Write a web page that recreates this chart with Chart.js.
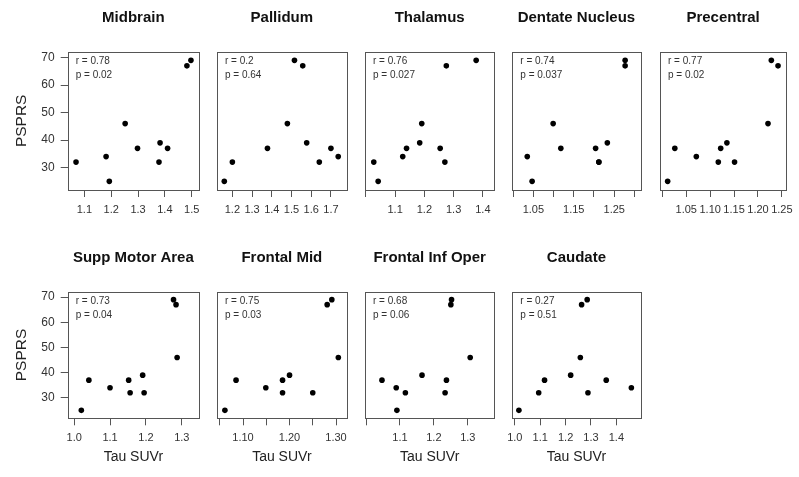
<!DOCTYPE html>
<html>
<head>
<meta charset="utf-8">
<script src="https://cdn.jsdelivr.net/npm/chart.js@4.4.0/dist/chart.umd.min.js"></script>
<style>
  html, body { margin: 0; padding: 0; background: #fff; }
  #wrap { position: relative; width: 799px; height: 477px; }
  #wrap canvas { position: absolute; left: 0; top: 0; }
</style>
</head>
<body>
<div id="wrap"></div>
<script>
// one panel per brain region, same 10 patients in each
const regions = ['Midbrain', 'Pallidum', 'Thalamus', 'Dentate Nucleus', 'Precentral',
                 'Supp Motor Area', 'Frontal Mid', 'Frontal Inf Oper', 'Caudate'];

const tauSuvr = [
  [1.069, 1.181, 1.193, 1.252, 1.298, 1.378, 1.382, 1.410, 1.482, 1.497],
  [1.159, 1.200, 1.378, 1.479, 1.515, 1.557, 1.577, 1.641, 1.700, 1.737],
  [1.027, 1.042, 1.126, 1.139, 1.184, 1.191, 1.254, 1.270, 1.275, 1.377],
  [1.035, 1.047, 1.099, 1.118, 1.204, 1.212, 1.212, 1.233, 1.277, 1.277],
  [1.011, 1.026, 1.071, 1.117, 1.122, 1.135, 1.151, 1.221, 1.228, 1.242],
  [1.020, 1.041, 1.100, 1.152, 1.156, 1.191, 1.195, 1.277, 1.284, 1.287],
  [1.061, 1.085, 1.149, 1.185, 1.185, 1.200, 1.250, 1.281, 1.291, 1.305],
  [1.047, 1.089, 1.091, 1.116, 1.165, 1.233, 1.237, 1.250, 1.252, 1.307],
  [1.016, 1.094, 1.117, 1.220, 1.258, 1.263, 1.285, 1.288, 1.360, 1.459]
];

const psprs = [
  [32, 34, 25, 46, 37, 32, 39, 37, 67, 69],
  [25, 32, 37, 46, 69, 67, 39, 32, 37, 34],
  [32, 25, 34, 37, 39, 46, 37, 32, 67, 69],
  [34, 25, 46, 37, 37, 32, 32, 39, 69, 67],
  [25, 37, 34, 32, 37, 39, 32, 46, 69, 67],
  [25, 37, 34, 37, 32, 39, 32, 69, 67, 46],
  [25, 37, 34, 37, 32, 39, 32, 67, 69, 46],
  [37, 34, 25, 32, 39, 32, 37, 67, 69, 46],
  [25, 32, 37, 39, 46, 67, 69, 32, 37, 34]
];

const rValues = ['0.78', '0.2', '0.76', '0.74', '0.77', '0.73', '0.75', '0.68', '0.27'];
const pValues = ['0.02', '0.64', '0.027', '0.037', '0.02', '0.04', '0.03', '0.06', '0.51'];

const xTicks = [
  [1.1, 1.2, 1.3, 1.4, 1.5],
  [1.2, 1.3, 1.4, 1.5, 1.6, 1.7],
  [1.0, 1.1, 1.2, 1.3, 1.4],
  [1.0, 1.05, 1.1, 1.15, 1.2, 1.25, 1.3],
  [1.0, 1.05, 1.1, 1.15, 1.2, 1.25],
  [1.0, 1.1, 1.2, 1.3],
  [1.05, 1.1, 1.15, 1.2, 1.25, 1.3],
  [1.0, 1.1, 1.2, 1.3],
  [1.0, 1.1, 1.2, 1.3, 1.4]
];
const xTickLabels = [
  ['1.1', '1.2', '1.3', '1.4', '1.5'],
  ['1.2', '1.3', '1.4', '1.5', '1.6', '1.7'],
  ['', '1.1', '1.2', '1.3', '1.4'],
  ['', '1.05', '', '1.15', '', '1.25', ''],
  ['', '1.05', '1.10', '1.15', '1.20', '1.25'],
  ['1.0', '1.1', '1.2', '1.3'],
  ['', '1.10', '', '1.20', '', '1.30'],
  ['', '1.1', '1.2', '1.3'],
  ['1.0', '1.1', '1.2', '1.3', '1.4']
];
const xMin = [1.038, 1.122, 0.997, 0.998, 0.995, 0.982, 1.044, 0.997, 0.990];
const xMax = [1.527, 1.780, 1.439, 1.315, 1.259, 1.348, 1.323, 1.378, 1.495];

const yTicks = [30, 40, 50, 60, 70];
const yMin = 21.85, yMax = 72.15;

// panel grid (plot box edges in px)
const colLeft = [67.7, 217, 365, 512.3, 660];
const colRight = [199, 346.7, 494.3, 640.5, 789.3];
const rowTop = [51.7, 291.7];
const rowBottom = [190, 418.3];
const rowTitleTop = [0, 240];

const W = 799, H = 477;
const FONT = '"Liberation Sans", Arial, Helvetica, sans-serif';
Chart.defaults.font.family = FONT;

// R-style frame plus the r / p annotation
const boxPlugin = {
  id: 'rBox',
  afterDraw(chart, args, opts) {
    const {ctx, chartArea: a} = chart;
    ctx.save();
    ctx.strokeStyle = '#555';
    ctx.lineWidth = 1;
    const l = Math.round(a.left) + 0.5, t = Math.round(a.top) + 0.5;
    const r = Math.round(a.right) + 0.5, b = Math.round(a.bottom) + 0.5;
    ctx.strokeRect(l, t, r - l, b - t);
    ctx.fillStyle = '#333';
    ctx.font = '10px ' + FONT;
    ctx.textBaseline = 'middle';
    ctx.fillText('r = ' + opts.r, a.left + 8, a.top + 10);
    ctx.fillText('p = ' + opts.p, a.left + 8, a.top + 24);
    ctx.restore();
  }
};

const wrap = document.getElementById('wrap');

regions.forEach((name, i) => {
  const row = i < 5 ? 0 : 1;
  const col = row === 0 ? i : i - 5;
  const firstCol = col === 0;
  const yAxisW = firstCol ? 56 : 0;
  const xAxisH = 50;

  const canvas = document.createElement('canvas');
  canvas.width = W;
  canvas.height = H;
  wrap.appendChild(canvas);

  const points = tauSuvr[i].map((x, k) => ({x: x, y: psprs[i][k]}));

  new Chart(canvas, {
    type: 'scatter',
    data: {
      datasets: [{
        data: points,
        pointRadius: 2.8,
        pointHoverRadius: 2.8,
        pointBackgroundColor: '#000',
        pointBorderWidth: 0
      }]
    },
    options: {
      responsive: false,
      animation: false,
      devicePixelRatio: 1,
      events: [],
      layout: {
        padding: {
          left: colLeft[col] - yAxisW,
          right: W - colRight[col],
          top: rowTitleTop[row],
          bottom: H - rowBottom[row] - xAxisH
        }
      },
      plugins: {
        legend: {display: false},
        tooltip: {enabled: false},
        title: {
          display: true,
          fullSize: false,
          text: name,
          color: '#111',
          font: {size: 15, weight: 'bold'},
          padding: {top: 8.5, bottom: rowTop[row] - rowTitleTop[row] - 18 - 8.5}
        },
        rBox: {r: rValues[i], p: pValues[i]}
      },
      scales: {
        x: {
          type: 'linear',
          position: 'bottom',
          min: xMin[i],
          max: xMax[i],
          afterFit: s => { s.height = xAxisH; },
          afterBuildTicks: s => { s.ticks = xTicks[i].map(v => ({value: v})); },
          ticks: {
            autoSkip: false,
            maxRotation: 0,
            minRotation: 0,
            padding: 6,
            color: '#333',
            font: {size: 11},
            callback: (v, k) => xTickLabels[i][k]
          },
          grid: {drawOnChartArea: false, drawTicks: true, tickLength: 7, color: '#555'},
          border: {display: false},
          title: {
            display: row === 1,
            text: 'Tau SUVr',
            color: '#222',
            font: {size: 14},
            padding: {top: 0, bottom: 2.4}
          }
        },
        y: {
          type: 'linear',
          position: 'left',
          display: firstCol,
          min: yMin,
          max: yMax,
          afterFit: s => { s.width = yAxisW; },
          afterBuildTicks: s => { s.ticks = yTicks.map(v => ({value: v})); },
          ticks: {
            autoSkip: false,
            padding: 6,
            color: '#333',
            font: {size: 12}
          },
          grid: {drawOnChartArea: false, drawTicks: true, tickLength: 7, color: '#555'},
          border: {display: false},
          title: {
            display: true,
            text: 'PSPRS',
            color: '#222',
            font: {size: 15.5},
            padding: {top: 1, bottom: 0}
          }
        }
      }
    },
    plugins: [boxPlugin]
  });
});
</script>
</body>
</html>
